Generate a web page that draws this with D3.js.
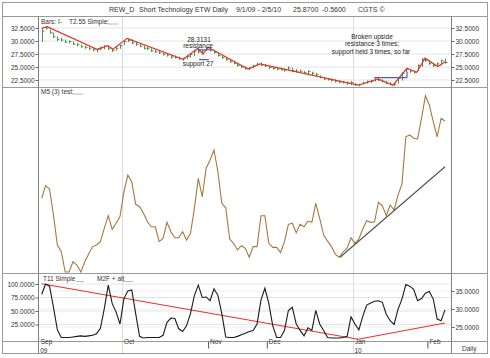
<!DOCTYPE html>
<html><head><meta charset="utf-8">
<script src="https://cdn.jsdelivr.net/npm/d3@7"></script>
<style>body{margin:0;background:#fff}svg{display:block;font-family:"Liberation Sans",Arial,sans-serif}</style>
</head><body><svg id="c" width="490" height="358"></svg>
<script>
// ---------------- data ----------------
const months = ["Sep","Oct","Nov","Dec","Jan","Feb"];
const monthStart = [0, 20.5, 42.5, 57.5, 79.5, 98.5];
const quarterLines = [20.5, 79.5];
const yearLabels = ["09","10"];
const yearAt = [0, 79.5];

const barHigh = [32.4,32.8,32.2,31.6,30.9,30.6,30.3,30.1,29.9,29.6,29.3,29.1,28.9,28.7,28.5,28.9,29.2,29.1,28.5,28.8,
29.3,30.1,30.5,30.3,29.8,29.5,29.1,28.9,28.6,28.3,28.1,27.8,27.6,27.3,27.2,27.0,26.8,27.2,27.6,28.3,
28.6,28.4,28.8,28.8,28.3,27.7,27.2,26.8,26.4,26.1,25.7,25.4,25.1,25.0,25.4,25.8,25.9,25.6,25.2,25.0,
24.9,24.9,24.7,25.1,24.9,24.6,24.5,24.2,24.4,24.1,23.9,23.4,23.0,22.9,22.8,22.6,22.4,22.3,22.2,22.3,
21.9,21.8,22.1,22.4,22.5,22.8,22.9,22.6,22.3,22.1,21.9,23.0,24.0,24.8,24.6,24.3,25.5,26.7,26.8,26.3,
25.7,25.9,26.4,26.6];
const barLow = [29.8,32.2,31.4,30.6,30.0,29.9,29.6,29.5,29.2,29.0,28.7,28.5,28.3,28.0,27.8,28.2,28.4,28.3,27.9,28.1,
28.5,29.2,29.8,29.4,29.1,28.8,28.4,28.3,27.9,27.7,27.5,27.2,27.0,26.6,26.6,26.4,26.2,26.5,26.8,27.1,
27.6,27.4,28.1,28.0,27.6,27.0,26.6,26.2,25.8,25.5,25.1,24.8,24.5,24.4,24.8,25.2,25.2,25.0,24.6,24.5,
24.4,24.3,24.1,24.3,24.0,23.9,23.8,23.6,23.6,23.4,23.2,22.8,22.5,22.4,22.2,22.0,21.9,21.8,21.6,21.5,
21.4,21.3,21.6,21.8,21.9,22.2,22.3,22.0,21.7,21.5,21.3,21.8,22.4,24.0,23.9,23.7,24.2,25.0,26.0,25.4,
25.0,25.0,25.3,25.6];
const barClose = [31.9,32.5,31.6,30.8,30.3,30.2,29.8,29.9,29.4,29.3,28.9,28.8,28.5,28.3,28.3,28.6,29.0,28.5,28.2,28.6,
29.1,29.9,30.1,29.6,29.3,29.0,28.6,28.5,28.1,27.9,27.7,27.4,27.3,26.9,26.8,26.6,26.6,27.0,27.4,28.0,
27.9,28.1,28.5,28.2,27.8,27.2,26.8,26.4,26.0,25.7,25.3,25.0,24.8,24.8,25.2,25.5,25.4,25.2,24.9,24.7,
24.6,24.5,24.4,24.8,24.3,24.1,24.2,23.9,24.1,23.8,23.5,23.0,22.7,22.6,22.5,22.3,22.1,22.0,21.9,22.0,
21.6,21.6,21.9,22.2,22.3,22.6,22.5,22.2,21.9,21.7,21.7,22.8,23.8,24.5,24.2,24.0,25.3,26.5,26.3,25.7,
25.3,25.6,26.2,25.87];

const zigIdx = [0,1.4,14.1,16.9,18.2,21.8,36.1,39.9,41.2,42.5,52.7,55.7,80.8,85.9,89.7,93.3,95.8,97.9,101.2,103];
const zigVal = [32.44,32.75,28.4,29.1,28.4,30.5,26.5,28.6,27.5,28.8,24.6,25.6,21.5,22.7,21.5,24.75,24.0,26.7,25.1,26.0];

const m5 = [40.1,46.9,45.1,31.0,14.7,11.0,0,0,5.6,3.8,0,5.6,9.8,13.8,14.7,16.5,23.8,30.6,23.2,26.5,
30.1,43.6,52.7,49.1,36.8,35.5,31.9,27.3,24.6,24.6,16.5,18.3,27.0,21.9,18.6,18.6,21.9,17.4,21.0,34.6,
50.9,40.9,56.4,60.9,66.3,54.5,37.3,34.9,17.9,15.6,12.0,14.3,12.9,8.0,13.8,13.8,30.6,30.6,15.6,13.4,
13.4,10.5,16.5,25.9,26.5,21.4,25.9,24.6,27.7,27.0,37.3,29.2,20.1,16.8,13.8,9.6,8.0,11.0,12.9,18.6,
15.6,17.9,23.4,27.9,27.0,27.3,37.9,36.0,30.6,36.4,33.7,41.8,47.7,73.5,74.5,72.7,72.3,83.5,95.8,90.8,
81.7,73.5,83.5,82.1];
const trendIdx = [76.2, 103];
const trendVal = [8.0, 57.2];

const t11 = [81,100,96,57,15,1,1,1,2,3,4,3,4,5,8,18,55,98,64,48,
26,73,87,89,45,3,0,1,1,1,1,5,29,37,36,17,12,23,45,79,
98,75,76,69,91,79,45,2,1,1,3,6,9,12,14,26,70,92,64,23,
1,1,14,51,57,26,14,4,19,14,51,26,14,1,0,0,0,1,3,39,
26,15,40,61,65,68,69,66,44,32,25,53,72,99,96,90,69,73,83,86,
72,35,32,52];
const m2fIdx = [0, 80.8, 103];
const m2fVal = [37.0, 21.6, 26.1];

const topTicks = [22.5,25,27.5,30,32.5];
const botLeftTicks = [25,50,75,100];
const botRightTicks = [25,30,35];

const resistA = {i0:39.7, i1:43.2, v:28.3131};
const supportA = {i0:40.2, i1:42.7, v:26.4};
const resistB = {i0:84.9, i1:93.3, v:22.94, v2:24.1};

// ---------------- layout ----------------
const svg = d3.select("#c");
const L = 38.5, R = 451.5, FX0 = 2.5, FX1 = 487.5, FY0 = 2.5, FY1 = 353.5;
const P1 = 16.5, P2 = 87.5, P3 = 273.5, P4 = 341.5;
const x = d3.scaleLinear().domain([0,103]).range([41.7,445]);
const yTop = d3.scaleLinear().domain([22.5,32.5]).range([80,28]);
const yMid = d3.scaleLinear().domain([0,100]).range([272,88]);
const yBotL = d3.scaleLinear().domain([0,100]).range([338,284]);
const yBotR = d3.scaleLinear().domain([25,35]).range([327,291]);
const fmt = d3.format(".4f");
const txt = "#333", fs = 6.5;

svg.append("rect").attr("width",490).attr("height",358).attr("fill","#fff");

// gridlines
const grid = svg.append("g");
topTicks.forEach(v => grid.append("line").attr("x1",L).attr("x2",R).attr("y1",yTop(v)).attr("y2",yTop(v)).attr("stroke","#e4e4e4"));
botLeftTicks.forEach(v => grid.append("line").attr("x1",L).attr("x2",R).attr("y1",yBotL(v)).attr("y2",yBotL(v)).attr("stroke","#e4e4e4"));
botRightTicks.forEach(v => grid.append("line").attr("x1",L).attr("x2",R).attr("y1",yBotR(v)).attr("y2",yBotR(v)).attr("stroke","#eeeeee"));
quarterLines.forEach(i => grid.append("line").attr("x1",Math.round(x(i))+0.5).attr("x2",Math.round(x(i))+0.5).attr("y1",P1).attr("y2",FY1).attr("stroke","#dcdcdc"));

// frame
const fr = svg.append("g").attr("stroke","#9a9a9a").attr("fill","none");
fr.append("rect").attr("x",FX0).attr("y",FY0).attr("width",FX1-FX0).attr("height",FY1-FY0);
[P1,P2,P3,P4].forEach(y => fr.append("line").attr("x1",FX0).attr("x2",FX1).attr("y1",y).attr("y2",y));
[L,R].forEach(xx => fr.append("line").attr("x1",xx).attr("x2",xx).attr("y1",P1).attr("y2",FY1).attr("stroke","#808080"));

// title
const title = [["REW_D",109],["Short Technology ETW Daily",139],["9/1/09 - 2/5/10",236],["25.8700",293],["-0.5600",322],["CGTS \u00A9",358]];
title.forEach(([t,xx]) => svg.append("text").attr("x",xx).attr("y",12).attr("font-size",7).attr("fill",txt).text(t));

// axes
function styleAxis(g){ g.select(".domain").remove(); g.selectAll("line").attr("stroke","#666"); g.selectAll("text").attr("font-size",fs).attr("fill",txt).attr("font-family","Liberation Sans, Arial, sans-serif"); }
svg.append("g").attr("transform",`translate(${L},0)`).call(d3.axisLeft(yTop).tickValues(topTicks).tickFormat(fmt).tickSize(3).tickPadding(1)).call(styleAxis);
svg.append("g").attr("transform",`translate(${R},0)`).call(d3.axisRight(yTop).tickValues(topTicks).tickFormat(fmt).tickSize(3).tickPadding(1)).call(styleAxis);
svg.append("g").attr("transform",`translate(${L},0)`).call(d3.axisLeft(yBotL).tickValues(botLeftTicks).tickFormat(fmt).tickSize(3).tickPadding(1)).call(styleAxis);
svg.append("g").attr("transform",`translate(${R},0)`).call(d3.axisRight(yBotR).tickValues(botRightTicks).tickFormat(fmt).tickSize(3).tickPadding(1)).call(styleAxis);

// date axis
const dax = svg.append("g").attr("transform",`translate(0,${P4})`)
  .call(d3.axisBottom(x).tickValues(monthStart).tickFormat((d,i)=>months[i]).tickSize(7).tickPadding(-6));
dax.select(".domain").remove();
dax.selectAll(".tick line").attr("stroke",(d)=>(quarterLines.includes(d)||d===0)?"none":"#555");
dax.selectAll(".tick text").attr("text-anchor","start").attr("dx",(d)=>d===0?-1.5:1.5).attr("dy","0.2em").attr("font-size",fs).attr("fill",txt);
yearLabels.forEach((t,k)=> svg.append("text").attr("x",x(yearAt[k])+(yearAt[k]===0?-1.5:1.5)).attr("y",353).attr("font-size",fs).attr("fill",txt).text(t));
svg.append("text").attr("x",462).attr("y",351).attr("font-size",fs).attr("fill",txt).text("Daily");

// clip paths
const defs = svg.append("defs");
[["c1",P1,P2],["c2",P2,P3],["c3",P3,P4]].forEach(([id,a,b]) => defs.append("clipPath").attr("id",id).append("rect").attr("x",L).attr("y",a).attr("width",R-L).attr("height",b-a));

// ---- top panel: bars + zigzag
const gTop = svg.append("g").attr("clip-path","url(#c1)");
const idx = d3.range(barHigh.length);
gTop.selectAll("line.bar").data(idx).join("line").attr("class","bar")
  .attr("x1",i=>Math.round(x(i))+0.5).attr("x2",i=>Math.round(x(i))+0.5)
  .attr("y1",i=>yTop(barHigh[i])).attr("y2",i=>yTop(barLow[i])).attr("stroke","#4a944a").attr("stroke-width",1);
gTop.selectAll("line.cl").data(idx).join("line").attr("class","cl")
  .attr("x1",i=>Math.round(x(i))+0.5).attr("x2",i=>Math.round(x(i))+2.5)
  .attr("y1",i=>yTop(barClose[i])).attr("y2",i=>yTop(barClose[i])).attr("stroke","#4a944a");
gTop.append("path").datum(zigIdx.map((d,k)=>[d,zigVal[k]]))
  .attr("d",d3.line().x(d=>x(d[0])).y(d=>yTop(d[1]))).attr("fill","none").attr("stroke","#e8322c").attr("stroke-width",1.2);
// annotation lines
const blue = "#4a5bd0";
[resistA,supportA,resistB].forEach(a => gTop.append("line").attr("x1",x(a.i0)).attr("x2",x(a.i1)).attr("y1",yTop(a.v)).attr("y2",yTop(a.v)).attr("stroke",blue).attr("stroke-width",1.2));
gTop.append("line").attr("x1",x(resistB.i1)).attr("x2",x(resistB.i1)).attr("y1",yTop(resistB.v)).attr("y2",yTop(resistB.v2)).attr("stroke",blue).attr("stroke-width",1.2);
// annotation text
const ann = [["28.3131",199,41.5],["resistance",198,47.5],["support 27",198,65.5],
  ["Broken upside",372,38.5],["resistance 3 times;",372,46],["support held 3 times, so far",371,53.5]];
ann.forEach(([t,xx,yy]) => svg.append("text").attr("x",xx).attr("y",yy).attr("text-anchor","middle").attr("font-size",fs).attr("fill","#222").text(t));

// legends
svg.append("text").attr("x",41).attr("y",23.5).attr("font-size",fs).attr("fill",txt).text("Bars: I-");
svg.append("text").attr("x",69).attr("y",23.5).attr("font-size",fs).attr("fill",txt).text("T2.55 Simple:");
svg.append("line").attr("x1",107).attr("x2",118).attr("y1",24).attr("y2",24).attr("stroke","#f0a0a0");
svg.append("text").attr("x",41).attr("y",93.5).attr("font-size",fs).attr("fill",txt).text("M5 (3) test:");
svg.append("line").attr("x1",72).attr("x2",83).attr("y1",94).attr("y2",94).attr("stroke","#bbb");
svg.append("text").attr("x",43).attr("y",281).attr("font-size",fs).attr("fill",txt).text("T11 Simple");
svg.append("line").attr("x1",76).attr("x2",84).attr("y1",281.5).attr("y2",281.5).attr("stroke","#bbb");
svg.append("text").attr("x",97).attr("y",281).attr("font-size",fs).attr("fill",txt).text("M2F + alt");
svg.append("line").attr("x1",123).attr("x2",133).attr("y1",281.5).attr("y2",281.5).attr("stroke","#bbb");

// ---- middle panel
const gMid = svg.append("g").attr("clip-path","url(#c2)");
gMid.append("path").datum(m5).attr("d",d3.line().x((d,i)=>x(i)).y(d=>yMid(d)))
  .attr("fill","none").attr("stroke","#a8773f").attr("stroke-width",1.1);
gMid.append("path").datum(trendIdx.map((d,k)=>[d,trendVal[k]])).attr("d",d3.line().x(d=>x(d[0])).y(d=>yMid(d[1])))
  .attr("fill","none").attr("stroke","#505050").attr("stroke-width",1.1);

// ---- bottom panel
const gBot = svg.append("g").attr("clip-path","url(#c3)");
gBot.append("path").datum(m2fIdx.map((d,k)=>[d,m2fVal[k]])).attr("d",d3.line().x(d=>x(d[0])).y(d=>yBotR(d[1])))
  .attr("fill","none").attr("stroke","#e8322c").attr("stroke-width",1.1);
gBot.append("path").datum(t11).attr("d",d3.line().x((d,i)=>x(i)).y(d=>yBotL(d)))
  .attr("fill","none").attr("stroke","#1a1a1a").attr("stroke-width",1.1);
</script></body></html>
